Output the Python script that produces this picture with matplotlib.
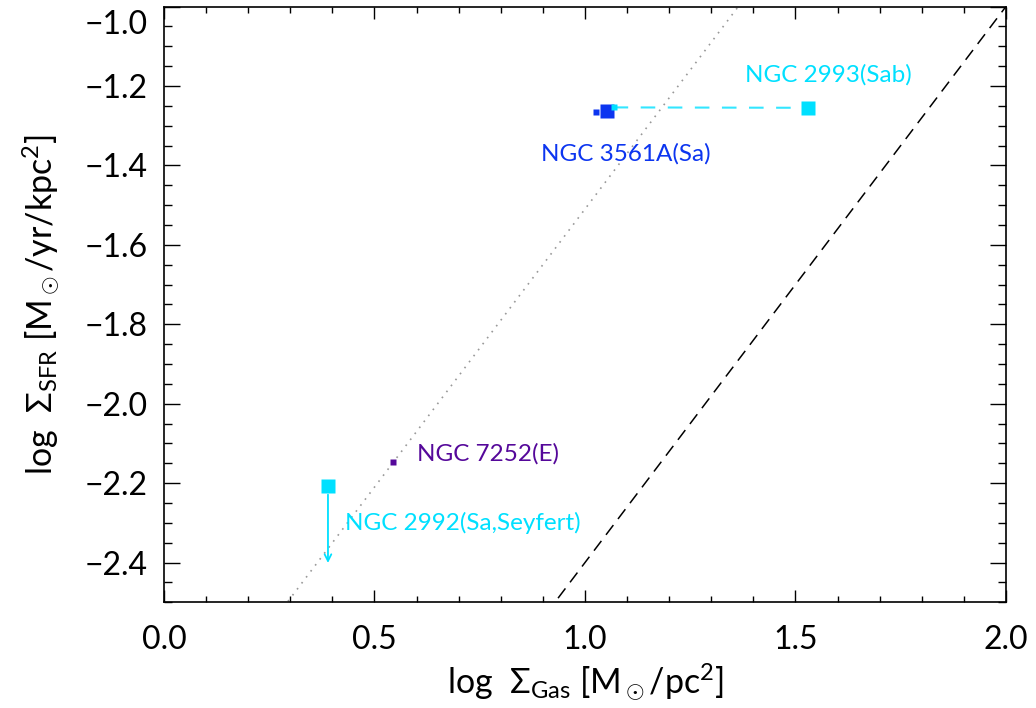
import numpy as np
import matplotlib.pyplot as plt
from matplotlib.ticker import MultipleLocator
from matplotlib.transforms import ScaledTranslation

# donnees
kennicutt_slope = 1.4
dotted_intercept = -2.91
dashed_intercept = -3.80

# NGC 2993 (Sab) : deux mesures reliees par un trait tirete
n2993_gas = [1.068, 1.530]
n2993_sfr = [-1.254, -1.255]
# NGC 3561A (Sa)
n3561_gas = [1.025, 1.052]
n3561_sfr = [-1.265, -1.262]
# NGC 7252 (E)
n7252_gas = [0.543]
n7252_sfr = [-2.146]
# NGC 2992 (Sa, Seyfert) : limite superieure
n2992_gas = [0.3895]
n2992_sfr = [-2.207]
n2992_lim = -2.408

cyan = '#00e0ff'
blue = '#0c35f0'
purple = '#55089a'

plt.rcParams['font.family'] = ['Lato', 'DejaVu Sans']
plt.rcParams['mathtext.fontset'] = 'custom'
plt.rcParams['mathtext.rm'] = 'Lato'
plt.rcParams['mathtext.it'] = 'Lato:italic'

fig = plt.figure(figsize=(10.36, 7.08), dpi=100)
ax = fig.add_axes([0.1583, 0.1493, 0.8127, 0.8415])

xx = np.array([0.0, 2.0])
ax.plot(xx, kennicutt_slope * xx + dotted_intercept, ls=(0, (1, 3.5)), color='#999999', lw=1.2)
ax.plot(xx, kennicutt_slope * xx + dashed_intercept, ls=(0, (8, 5)), color='black', lw=1.1)

ax.plot(n3561_gas[0], n3561_sfr[0], 's', color=blue, ms=5, mec='none')
ax.plot(n3561_gas[1], n3561_sfr[1], 's', color=blue, ms=10, mec='none')

ax.plot(n2993_gas, n2993_sfr, ls=(0, (7, 6)), color=cyan, lw=1.5, alpha=0.8)
ax.plot(n2993_gas[0], n2993_sfr[0], 's', color=cyan, ms=5, mec='none')
ax.plot(n2993_gas[1], n2993_sfr[1], 's', color=cyan, ms=10, mec='none')

ax.plot(n7252_gas, n7252_sfr, 's', color=purple, ms=5, mec='none')

ax.plot(n2992_gas, n2992_sfr, 's', color=cyan, ms=10, mec='none')
ax.annotate('', xy=(n2992_gas[0], n2992_lim), xytext=(n2992_gas[0], n2992_sfr[0] - 0.015),
            arrowprops=dict(arrowstyle='->', color=cyan, lw=1.3, mutation_scale=12))

fs_txt = 17.5
ax.text(1.38, -1.172, 'NGC 2993(Sab)', color=cyan, fontsize=fs_txt, va='center')
ax.text(0.895, -1.371, 'NGC 3561A(Sa)', color=blue, fontsize=fs_txt, va='center')
ax.text(0.6, -2.127, 'NGC 7252(E)', color=purple, fontsize=fs_txt, va='center')
ax.text(0.43, -2.300, 'NGC 2992(Sa,Seyfert)', color=cyan, fontsize=fs_txt, va='center')

ax.set_xlim(0, 2.0)
ax.set_ylim(-2.5, -1.0)
ax.xaxis.set_major_locator(MultipleLocator(0.5))
ax.xaxis.set_minor_locator(MultipleLocator(0.1))
ax.yaxis.set_major_locator(MultipleLocator(0.2))
ax.yaxis.set_minor_locator(MultipleLocator(0.05))
ax.tick_params(which='both', direction='in', top=True, right=True, width=1.0)
ax.tick_params(axis='x', which='major', length=8.6, labelsize=23, pad=16)
ax.tick_params(axis='x', which='minor', length=4.3)
ax.tick_params(axis='y', which='major', length=11.5, labelsize=23, pad=12)
ax.tick_params(axis='y', which='minor', length=5.8)
ax.xaxis.set_major_formatter(lambda v, p: f'{v:.1f}')
ax.yaxis.set_major_formatter(lambda v, p: f'\u2212{abs(v):.1f}' if v < 0 else f'{v:.1f}')
for s in ax.spines.values():
    s.set_linewidth(1.2)

ax.set_xlabel(r'log  $\Sigma_{\rm Gas}$ [M$_\odot$/pc$^2$]', fontsize=24.5, labelpad=5)
ax.set_ylabel(r'log  $\Sigma_{\rm SFR}$ [M$_\odot$/yr/kpc$^2$]', fontsize=24.5, labelpad=16)

# le label du haut est decale vers le bas comme sur l'original
fig.canvas.draw()
for lab in ax.get_yticklabels():
    if lab.get_text() == '\u22121.0':
        lab.set_transform(lab.get_transform() + ScaledTranslation(0, -15 / 100, fig.dpi_scale_trans))

fig.savefig('out.png', dpi=100)
